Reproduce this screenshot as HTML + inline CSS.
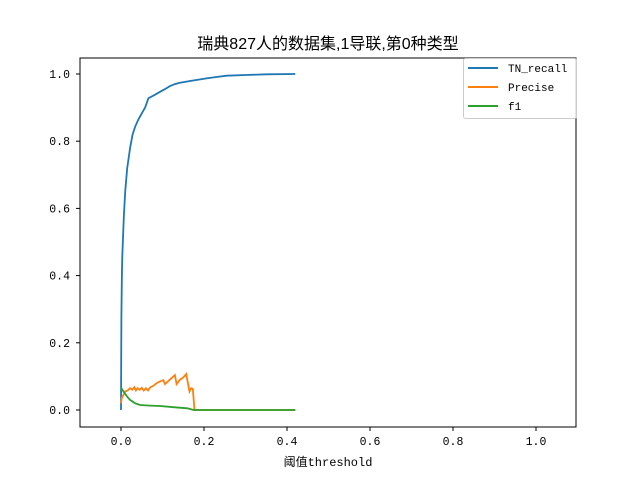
<!DOCTYPE html>
<html><head><meta charset="utf-8"><style>
body{margin:0;background:#fff;}
svg text{font-family:"Liberation Mono","Noto Sans CJK SC",monospace;fill:#000;}
svg text.title{font-family:"Liberation Sans","Noto Sans CJK SC",sans-serif;}
</style></head><body>
<svg width="640" height="480" xmlns="http://www.w3.org/2000/svg">
<rect width="640" height="480" fill="#fff"/>
<text class="title" x="328" y="49" font-size="16" text-anchor="middle">瑞典827人的数据集,1导联,第0种类型</text>
<g id="plot"></g>
<rect x="80" y="58" width="496" height="369" fill="none" stroke="#000" stroke-width="1"/>
<g id="xt"></g>
<g id="yt"></g>
<text x="328" y="466" font-size="12" text-anchor="middle">阈值threshold</text>
<g>
<rect x="463.5" y="58.5" width="113" height="60" rx="2" fill="#fff" fill-opacity="0.8" stroke="#ccc"/>
<line x1="468" y1="68" x2="498" y2="68" stroke="#1f77b4" stroke-width="2"/>
<text x="508" y="72" font-size="11">TN_recall</text>
<line x1="468" y1="87" x2="498" y2="87" stroke="#ff7f0e" stroke-width="2"/>
<text x="508" y="91" font-size="11">Precise</text>
<line x1="468" y1="106" x2="498" y2="106" stroke="#2ca02c" stroke-width="2"/>
<text x="508" y="110" font-size="11">f1</text>
</g>
</svg>
<script>
const xTicks=[0,0.2,0.4,0.6,0.8,1.0];
const xTickLabels=["0.0","0.2","0.4","0.6","0.8","1.0"];
const yTicks=[0,0.2,0.4,0.6,0.8,1.0];
const yTickLabels=["0.0","0.2","0.4","0.6","0.8","1.0"];
const recallX=[0,0.0005,0.001,0.002,0.003,0.005,0.007,0.01,0.015,0.022,0.028,0.034,0.042,0.05,0.058,0.066,0.08,0.094,0.106,0.118,0.13,0.142,0.17,0.206,0.23,0.255,0.3,0.35,0.42];
const recallY=[0,0.15,0.28,0.38,0.45,0.52,0.58,0.65,0.72,0.78,0.82,0.843,0.865,0.883,0.9,0.928,0.937,0.947,0.955,0.964,0.97,0.974,0.98,0.987,0.991,0.995,0.997,0.999,1.0];
const preciseX=[0,0.0017,0.006,0.01,0.016,0.022,0.027,0.032,0.036,0.04,0.045,0.05,0.055,0.06,0.065,0.07,0.078,0.086,0.094,0.102,0.106,0.114,0.122,0.13,0.134,0.142,0.15,0.157,0.165,0.169,0.173,0.177,0.25,0.35,0.42];
const preciseY=[0.02,0.036,0.045,0.055,0.058,0.065,0.06,0.068,0.058,0.065,0.06,0.066,0.058,0.065,0.058,0.067,0.072,0.08,0.085,0.089,0.077,0.086,0.095,0.104,0.077,0.09,0.097,0.107,0.055,0.065,0.063,0,0,0,0];
const f1X=[0,0.0017,0.006,0.01,0.016,0.022,0.034,0.046,0.07,0.094,0.13,0.16,0.175,0.25,0.35,0.42];
const f1Y=[0.068,0.063,0.055,0.048,0.038,0.03,0.02,0.015,0.013,0.012,0.008,0.005,0,0,0,0];
const X=v=>121+415*v, Y=v=>410-336*v;
const NS="http://www.w3.org/2000/svg";
const plot=document.getElementById('plot');
function line(xs,ys,color,name){
  const p=document.createElementNS(NS,'polyline');
  p.setAttribute('points',xs.map((x,i)=>X(x).toFixed(1)+','+Y(ys[i]).toFixed(1)).join(' '));
  p.setAttribute('fill','none');p.setAttribute('stroke',color);p.setAttribute('stroke-width','1.8');
  
  
  plot.appendChild(p);
}
line(recallX,recallY,'#1f77b4','tn-recall-line');
line(preciseX,preciseY,'#ff7f0e','precise-line');
line(f1X,f1Y,'#2ca02c','f1-line');
const xt=document.getElementById('xt'), yt=document.getElementById('yt');
xTicks.forEach((v,i)=>{
  const l=document.createElementNS(NS,'line');
  l.setAttribute('x1',X(v));l.setAttribute('x2',X(v));l.setAttribute('y1',427);l.setAttribute('y2',431);l.setAttribute('stroke','#000');
  
  
  xt.appendChild(l);
  const t=document.createElementNS(NS,'text');
  t.setAttribute('x',X(v));t.setAttribute('y',445);t.setAttribute('font-size','11.5');t.setAttribute('text-anchor','middle');
  t.textContent=xTickLabels[i];
  
  
  xt.appendChild(t);
});
yTicks.forEach((v,i)=>{
  const l=document.createElementNS(NS,'line');
  l.setAttribute('x1',76);l.setAttribute('x2',80);l.setAttribute('y1',Y(v));l.setAttribute('y2',Y(v));l.setAttribute('stroke','#000');
  
  
  yt.appendChild(l);
  const t=document.createElementNS(NS,'text');
  t.setAttribute('x',70);t.setAttribute('y',Y(v)+4);t.setAttribute('font-size','11.5');t.setAttribute('text-anchor','end');
  t.textContent=yTickLabels[i];
  
  
  yt.appendChild(t);
});
</script>
</body></html>
